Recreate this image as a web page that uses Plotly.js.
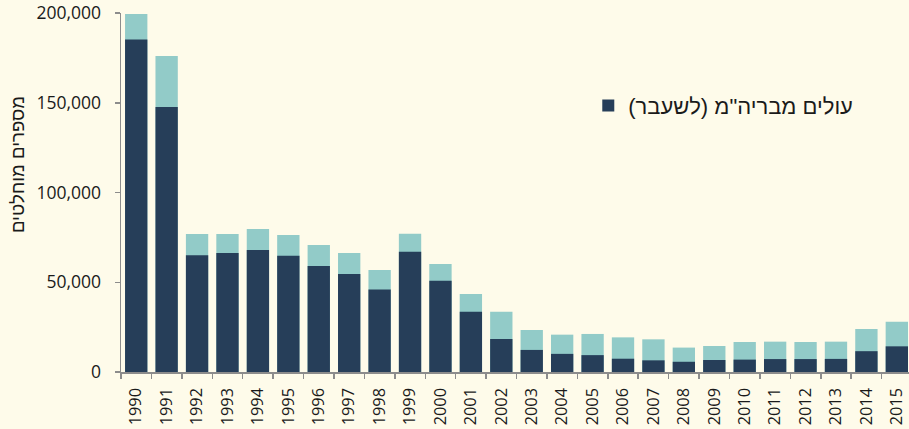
<!DOCTYPE html>
<html>
<head>
<meta charset="utf-8">
<script src="https://cdn.plot.ly/plotly-3.0.1.min.js"></script>
<style>
  html, body { margin: 0; padding: 0; background: #fefbea; overflow: hidden; }
  #chart { width: 909px; height: 429px; }
</style>
</head>
<body>
<div id="chart"></div>
<script>
// Data
const years = ['1990','1991','1992','1993','1994','1995','1996','1997','1998','1999','2000','2001','2002','2003','2004','2005','2006','2007','2008','2009','2010','2011','2012','2013','2014','2015'];
// total immigrants (light bar top)
const totalImmigrants = [199500, 176000, 76900, 76900, 79700, 76300, 70800, 66300, 56800, 77000, 60200, 43500, 33600, 23400, 20800, 21200, 19300, 18200, 13600, 14500, 16700, 16900, 16700, 16900, 24000, 28000];
// immigrants from former USSR (dark bar)
const ussrImmigrants = [185200, 147700, 65000, 66300, 68000, 64800, 59000, 54600, 46000, 67000, 50900, 33500, 18400, 12300, 10100, 9400, 7400, 6500, 5700, 6700, 6900, 7200, 7200, 7300, 11600, 14300];

const legendLabel = 'עולים מבריה"מ (לשעבר)\u200F';
const yTitle = 'מספרים מוחלטים';

const numFont = '"Open Sans", "Noto Sans", sans-serif';
const hebFont = '"Liberation Sans", Arial, sans-serif';

const traces = [
  {
    type: 'bar',
    x: years,
    y: totalImmigrants,
    marker: { color: '#92cbc8', line: { width: 0 } },
    showlegend: false
  },
  {
    type: 'bar',
    x: years,
    y: ussrImmigrants,
    name: legendLabel,
    marker: { color: '#263e59', line: { width: 0 } },
    showlegend: true
  }
];

const layout = {
  width: 909,
  height: 429,
  margin: { l: 121, r: 0, t: 13, b: 57, pad: 0 },
  paper_bgcolor: '#fefbea',
  plot_bgcolor: '#fefbea',
  barmode: 'overlay',
  bargap: 0.266,
  font: { family: numFont, size: 16, color: '#1a1a1a' },
  xaxis: {
    type: 'category',
    range: [-0.5, 25.4],
    showline: true,
    linecolor: '#8c8c8c',
    linewidth: 1.5,
    ticks: 'outside',
    tickson: 'boundaries',
    ticklen: 5,
    tickcolor: '#8c8c8c',
    tickwidth: 1.5,
    tickangle: -90,
    ticklabelstandoff: 8,
    tickfont: { family: numFont, size: 16.3, color: '#1a1a1a' },
    showgrid: false,
    zeroline: false,
    fixedrange: true
  },
  yaxis: {
    range: [0, 200000],
    tickvals: [0, 50000, 100000, 150000, 200000],
    ticktext: ['0', '50,000', '100,000', '150,000', '200,000'],
    showline: true,
    linecolor: '#8c8c8c',
    linewidth: 1.5,
    ticks: 'outside',
    ticklen: 5,
    tickcolor: '#8c8c8c',
    tickwidth: 1.5,
    ticklabelstandoff: 10,
    tickfont: { family: numFont, size: 17.5, color: '#1a1a1a' },
    showgrid: false,
    zeroline: false,
    fixedrange: true
  },
  legend: {
    x: 0.593,
    y: 0.80,
    xanchor: 'left',
    yanchor: 'top',
    bgcolor: 'rgba(0,0,0,0)',
    font: { family: hebFont, size: 22, color: '#1a1a1a' },
    itemwidth: 30
  },
  annotations: [
    {
      text: yTitle,
      xref: 'paper',
      yref: 'paper',
      x: -0.132,
      y: 0.579,
      xanchor: 'center',
      yanchor: 'middle',
      textangle: -90,
      showarrow: false,
      font: { family: hebFont, size: 18.6, color: '#1a1a1a' }
    }
  ]
};

Plotly.newPlot('chart', traces, layout, { displayModeBar: false, staticPlot: true });
</script>
</body>
</html>
